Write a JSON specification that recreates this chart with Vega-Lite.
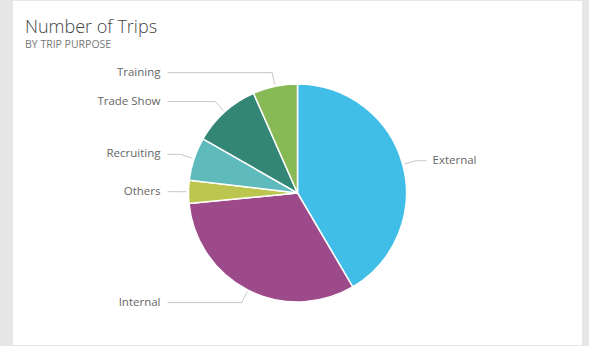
{
  "$schema": "https://vega.github.io/schema/vega-lite/v6.json",
  "width": 569,
  "height": 344,
  "autosize": {"type": "none"},
  "padding": {"left": 13, "right": 7, "top": 1, "bottom": 1},
  "background": "#e6e6e6",
  "config": {"view": {"fill": "white", "stroke": null}, "font": "Open Sans"},
  "title": {
    "text": "Number of Trips",
    "subtitle": "BY TRIP PURPOSE",
    "anchor": "start",
    "frame": "group",
    "orient": "top",
    "offset": -49,
    "dx": 12,
    "font": "Open Sans",
    "fontSize": 18,
    "fontWeight": 300,
    "color": "#444444",
    "subtitleFont": "Open Sans",
    "subtitleFontSize": 10.5,
    "subtitleColor": "#777777",
    "subtitlePadding": 3
  },
  "data": {
    "values": [
      {"purpose": "External", "trips": 415},
      {"purpose": "Internal", "trips": 319},
      {"purpose": "Others", "trips": 34},
      {"purpose": "Recruiting", "trips": 64},
      {"purpose": "Trade Show", "trips": 101},
      {"purpose": "Training", "trips": 66}
    ]
  },
  "layer": [
    {
      "mark": {"type": "arc", "outerRadius": 109, "stroke": "white", "strokeWidth": 1.5, "yOffset": 20},
      "encoding": {
        "theta": {"field": "trips", "type": "quantitative", "stack": true},
        "order": {"field": "purpose", "sort": "ascending"},
        "color": {
          "field": "purpose",
          "type": "nominal",
          "legend": null,
          "scale": {
            "domain": ["External", "Internal", "Others", "Recruiting", "Trade Show", "Training"],
            "range": ["#41BEE8", "#9D4A8B", "#BCC64E", "#5FBBBB", "#338575", "#87B955"]
          }
        }
      }
    },
    {
      "transform": [
        {"joinaggregate": [{"op": "sum", "field": "trips", "as": "total"}]},
        {"window": [{"op": "sum", "field": "trips", "as": "cum"}], "sort": [{"field": "purpose"}], "frame": [null, 0]},
        {"calculate": "2*PI*(datum.cum - datum.trips/2)/datum.total", "as": "mid"},
        {"calculate": "sin(datum.mid)*111", "as": "ex"},
        {"calculate": "-cos(datum.mid)*111", "as": "ey"},
        {"calculate": "sin(datum.mid)*123", "as": "kx"},
        {"calculate": "-cos(datum.mid)*123", "as": "ky"}
      ],
      "mark": {"type": "rule", "color": "#c8c8c8", "strokeWidth": 1},
      "encoding": {
        "x": {"field": "ex", "type": "quantitative", "axis": null, "scale": {"domain": [-284.5, 284.5], "nice": false, "zero": false}},
        "y": {"field": "ey", "type": "quantitative", "axis": null, "scale": {"domain": [-192, 152], "nice": false, "zero": false, "reverse": true}},
        "x2": {"field": "kx"},
        "y2": {"field": "ky"}
      }
    },
    {
      "transform": [
        {"joinaggregate": [{"op": "sum", "field": "trips", "as": "total"}]},
        {"window": [{"op": "sum", "field": "trips", "as": "cum"}], "sort": [{"field": "purpose"}], "frame": [null, 0]},
        {"calculate": "2*PI*(datum.cum - datum.trips/2)/datum.total", "as": "mid"},
        {"calculate": "sin(datum.mid)*123", "as": "kx"},
        {"calculate": "-cos(datum.mid)*123", "as": "ky"},
        {"calculate": "sin(datum.mid) >= 0 ? 129 : -130", "as": "lx"}
      ],
      "mark": {"type": "rule", "color": "#c8c8c8", "strokeWidth": 1},
      "encoding": {
        "x": {"field": "kx", "type": "quantitative"},
        "y": {"field": "ky", "type": "quantitative"},
        "x2": {"field": "lx"},
        "y2": {"field": "ky"}
      }
    },
    {
      "transform": [
        {"joinaggregate": [{"op": "sum", "field": "trips", "as": "total"}]},
        {"window": [{"op": "sum", "field": "trips", "as": "cum"}], "sort": [{"field": "purpose"}], "frame": [null, 0]},
        {"calculate": "2*PI*(datum.cum - datum.trips/2)/datum.total", "as": "mid"},
        {"filter": "sin(datum.mid) < 0"},
        {"calculate": "-cos(datum.mid)*123", "as": "ky"},
        {"calculate": "-137", "as": "tx"}
      ],
      "mark": {"type": "text", "align": "right", "baseline": "middle", "fontSize": 11.5, "color": "#666666", "font": "Open Sans"},
      "encoding": {
        "x": {"field": "tx", "type": "quantitative"},
        "y": {"field": "ky", "type": "quantitative"},
        "text": {"field": "purpose"}
      }
    },
    {
      "transform": [
        {"joinaggregate": [{"op": "sum", "field": "trips", "as": "total"}]},
        {"window": [{"op": "sum", "field": "trips", "as": "cum"}], "sort": [{"field": "purpose"}], "frame": [null, 0]},
        {"calculate": "2*PI*(datum.cum - datum.trips/2)/datum.total", "as": "mid"},
        {"filter": "sin(datum.mid) >= 0"},
        {"calculate": "-cos(datum.mid)*123", "as": "ky"},
        {"calculate": "135", "as": "tx"}
      ],
      "mark": {"type": "text", "align": "left", "baseline": "middle", "fontSize": 11.5, "color": "#666666", "font": "Open Sans"},
      "encoding": {
        "x": {"field": "tx", "type": "quantitative"},
        "y": {"field": "ky", "type": "quantitative"},
        "text": {"field": "purpose"}
      }
    }
  ]
}
